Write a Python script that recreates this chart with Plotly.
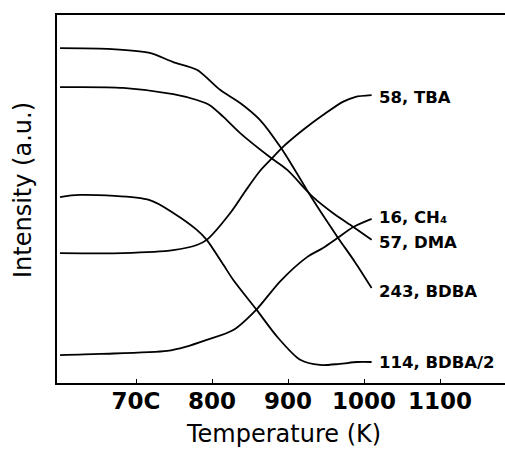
import plotly.graph_objects as go

# Temperature (K) sample points and intensities (a.u.) for each mass fragment
t_bdba = [600, 662, 718, 749, 780, 811, 837, 863, 890, 909, 933, 965, 988, 1010]
i_bdba = [91.0, 90.8, 89.7, 87.2, 85.1, 79.6, 76.1, 71.5, 64.1, 57.9, 49.7, 39.7, 32.9, 25.8]

t_dma = [600, 683, 749, 780, 797, 815, 837, 876, 899, 933, 959, 986, 1010]
i_dma = [80.4, 80.2, 78.5, 76.9, 75.5, 72.3, 67.9, 61.4, 57.9, 50.5, 46.2, 42.4, 38.9]

t_bdba2 = [600, 626, 718, 749, 780, 793, 815, 828, 859, 886, 916, 942, 968, 991, 1010]
i_bdba2 = [50.5, 51.1, 49.7, 46.2, 41.6, 38.9, 32.1, 28.0, 19.8, 12.5, 6.3, 4.9, 5.2, 5.7, 5.7]

t_tba = [600, 683, 749, 780, 793, 824, 843, 863, 879, 892, 920, 946, 972, 988, 1010]
i_tba = [35.3, 35.3, 36.1, 37.5, 38.9, 46.2, 51.9, 57.6, 61.1, 63.9, 68.8, 72.8, 76.4, 77.7, 78.2]

t_ch4 = [600, 653, 741, 765, 793, 828, 859, 890, 925, 946, 965, 986, 1010]
i_ch4 = [7.6, 7.9, 8.7, 9.8, 11.7, 14.4, 20.1, 27.7, 34.2, 36.7, 39.4, 42.4, 44.6]

series_labels = ["243, BDBA", "57, DMA", "114, BDBA/2", "58, TBA", "16, CH\u2084"]
label_yshift = [-3.5, -2.5, 0, -2, 1]

tick_vals = [700, 800, 900, 1000, 1100]
tick_text = ["70C", "800", "900", "1000", "1100"]

series = [
    (t_bdba, i_bdba),
    (t_dma, i_dma),
    (t_bdba2, i_bdba2),
    (t_tba, i_tba),
    (t_ch4, i_ch4),
]

FONT = "DejaVu Sans"

fig = go.Figure()
for (t, i), name in zip(series, series_labels):
    fig.add_trace(go.Scatter(
        x=t, y=i, mode="lines", name=name,
        line=dict(color="black", width=1.8, shape="spline", smoothing=0.8),
        showlegend=False, hoverinfo="skip",
    ))

annotations = []
for (t, i), name, dy in zip(series, series_labels, label_yshift):
    annotations.append(dict(
        x=t[-1], y=i[-1], xref="x", yref="y", text=name, showarrow=False,
        xanchor="left", yanchor="middle", xshift=5, yshift=dy,
        font=dict(family=FONT, size=16.5, color="black", weight="bold"),
    ))

annotations.append(dict(
    x=0.5045, y=-0.1386, xref="paper", yref="paper", text="Temperature (K)",
    showarrow=False, xanchor="center", yanchor="middle",
    font=dict(family=FONT, size=24, color="black"),
))
annotations.append(dict(
    x=-0.0759, y=0.5245, xref="paper", yref="paper", text="Intensity (a.u.)",
    showarrow=False, xanchor="center", yanchor="middle", textangle=-90,
    font=dict(family=FONT, size=24, color="black"),
))

fig.update_layout(
    width=505, height=450,
    margin=dict(l=57, r=0, t=15, b=67),
    paper_bgcolor="white", plot_bgcolor="white",
    annotations=annotations,
    xaxis=dict(
        range=[596, 1185.5], tickvals=tick_vals, ticktext=tick_text,
        showline=True, linecolor="black", linewidth=2, mirror=True,
        ticks="inside", ticklen=4, tickwidth=1, tickcolor="black",
        ticklabelstandoff=-4,
        showgrid=False, zeroline=False,
        tickfont=dict(family=FONT, size=23, color="black", weight="bold"),
    ),
    yaxis=dict(
        range=[0, 100], showticklabels=False, ticks="",
        showline=True, linecolor="black", linewidth=2,
        showgrid=False, zeroline=False,
    ),
)

fig.write_html("out.html")
